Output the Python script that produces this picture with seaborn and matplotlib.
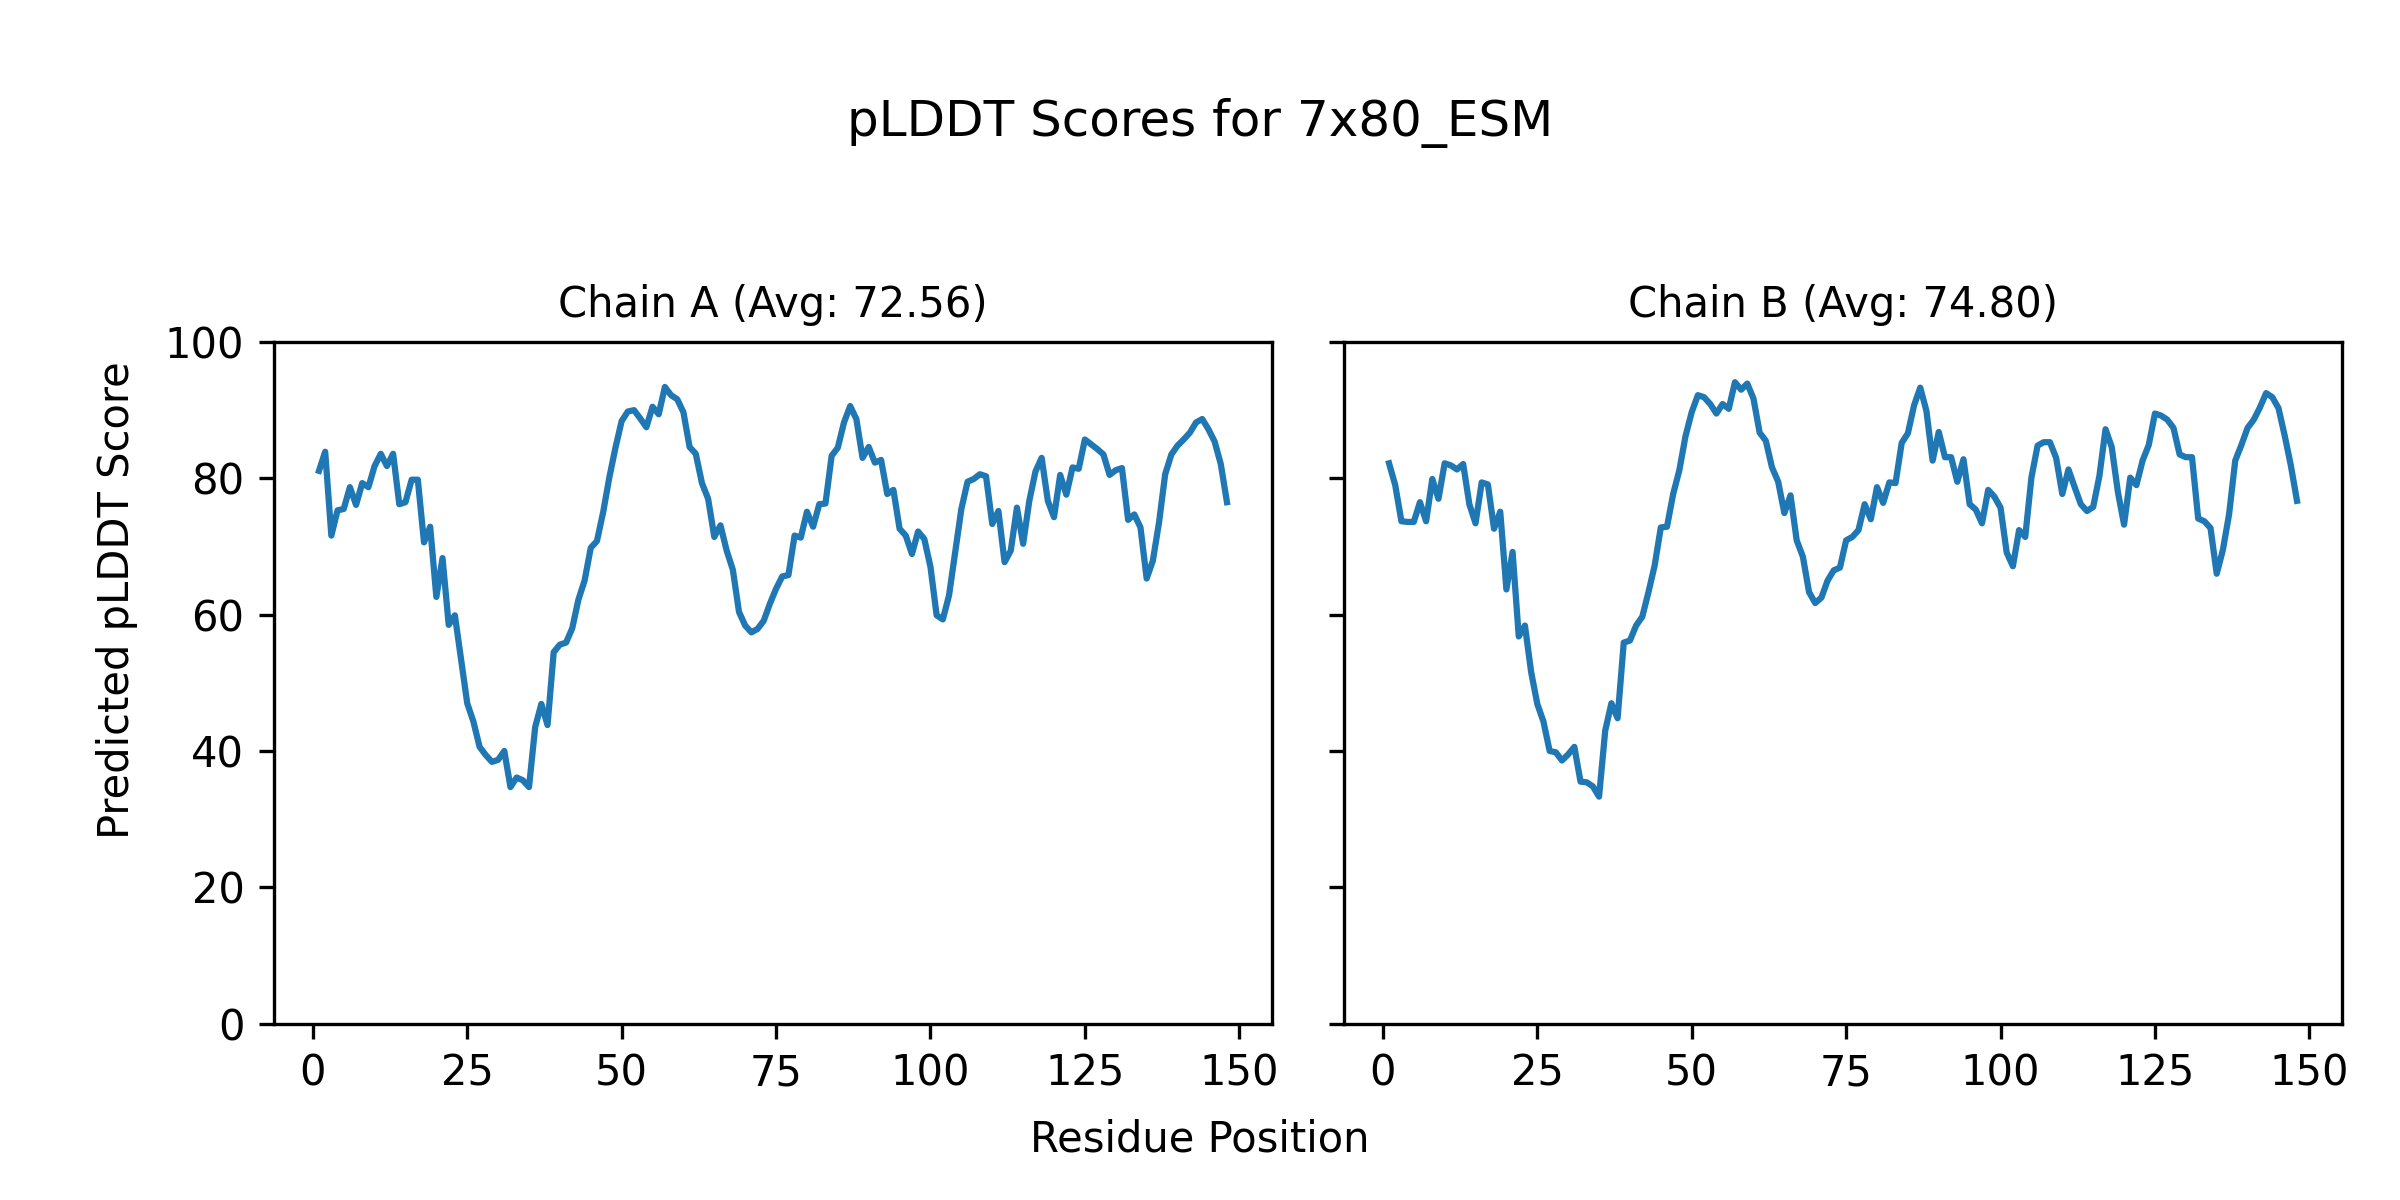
import matplotlib
matplotlib.use("Agg")
import matplotlib.pyplot as plt
import seaborn as sns
import numpy as np

# per-residue pLDDT values
chain_a = [81.1, 83.9, 71.6, 75.3, 75.5, 78.7, 76.1, 79.3, 78.7, 81.8,
           83.6, 81.8, 83.6, 76.2, 76.5, 79.8, 79.8, 70.6, 72.9, 62.6,
           68.3, 58.5, 59.9, 53.4, 47.0, 44.3, 40.6, 39.4, 38.4, 38.7,
           40.0, 34.7, 36.1, 35.7, 34.7, 43.5, 46.9, 43.8, 54.5, 55.6,
           55.9, 58.0, 62.2, 65.0, 69.8, 70.8, 75.0, 80.1, 84.5, 88.4,
           89.8, 90.0, 88.8, 87.5, 90.5, 89.4, 93.4, 92.2, 91.6, 89.7,
           84.6, 83.6, 79.3, 77.0, 71.4, 73.1, 69.4, 66.6, 60.4, 58.4,
           57.4, 57.9, 59.1, 61.6, 63.8, 65.6, 65.8, 71.6, 71.3, 75.1,
           72.9, 76.2, 76.3, 83.3, 84.5, 88.2, 90.6, 88.7, 83.0, 84.6,
           82.3, 82.7, 77.7, 78.3, 72.6, 71.6, 68.9, 72.2, 71.1, 67.0,
           59.9, 59.3, 62.8, 69.2, 75.5, 79.5, 79.9, 80.6, 80.3, 73.3,
           75.2, 67.7, 69.4, 75.7, 70.4, 76.7, 81.0, 83.0, 76.7, 74.3,
           80.5, 77.6, 81.6, 81.4, 85.7, 85.0, 84.3, 83.5, 80.5, 81.2,
           81.5, 73.9, 74.7, 72.8, 65.3, 67.9, 73.5, 80.6, 83.5, 84.8,
           85.7, 86.7, 88.2, 88.7, 87.2, 85.4, 82.1, 76.5]

chain_b = [82.2, 79.0, 73.7, 73.6, 73.6, 76.5, 73.7, 79.9, 77.0, 82.2,
           81.9, 81.3, 82.1, 76.2, 73.4, 79.4, 79.1, 72.6, 75.1, 63.7,
           69.2, 56.8, 58.4, 51.6, 46.9, 44.3, 40.0, 39.8, 38.6, 39.5,
           40.6, 35.5, 35.4, 34.8, 33.3, 43.0, 47.0, 44.8, 55.9, 56.2,
           58.4, 59.7, 63.3, 67.2, 72.8, 72.9, 77.7, 81.2, 86.2, 89.7,
           92.2, 91.9, 90.9, 89.5, 90.9, 90.2, 94.1, 93.0, 93.9, 91.7,
           86.7, 85.5, 81.6, 79.5, 74.9, 77.5, 70.9, 68.5, 63.3, 61.7,
           62.5, 65.0, 66.5, 66.9, 70.9, 71.4, 72.4, 76.2, 74.0, 78.7,
           76.4, 79.4, 79.3, 85.2, 86.6, 90.7, 93.3, 89.9, 82.6, 86.8,
           83.1, 83.1, 79.5, 82.8, 76.2, 75.4, 73.4, 78.3, 77.3, 75.7,
           69.1, 67.1, 72.4, 71.4, 80.1, 84.8, 85.3, 85.3, 83.0, 77.7,
           81.3, 78.7, 76.2, 75.2, 75.8, 80.3, 87.2, 84.6, 78.0, 73.2,
           80.1, 79.0, 82.6, 84.9, 89.5, 89.2, 88.6, 87.4, 83.5, 83.1,
           83.1, 74.1, 73.7, 72.7, 66.0, 69.5, 74.7, 82.6, 84.9, 87.4,
           88.6, 90.4, 92.5, 91.9, 90.3, 86.3, 81.9, 76.7]

chain_names = ["A", "B"]
avg_scores = [72.56, 74.80]
model_name = "7x80_ESM"

fig, axes = plt.subplots(1, 2, figsize=(8, 4), dpi=300, sharey=True)
fig.subplots_adjust(left=0.114, right=0.976, top=0.715, bottom=0.147, wspace=0.0714)

for ax, name, scores, avg in zip(axes, chain_names, [chain_a, chain_b], avg_scores):
    residues = np.arange(1, len(scores) + 1)
    sns.lineplot(x=residues, y=scores, ax=ax, color="#1f77b4", linewidth=1.5)
    ax.set_title(f"Chain {name} (Avg: {avg:.2f})", fontsize=10)
    ax.set_ylim(0, 100)
    ax.set_xlabel("")
    ax.set_ylabel("")

fig.suptitle(f"pLDDT Scores for {model_name}", y=0.887, va="baseline")
fig.text(0.5, 0.04, "Residue Position", ha="center")
fig.text(0.04, 0.5, "Predicted pLDDT Score", va="center", rotation="vertical")

fig.savefig("out.png", dpi=300)
